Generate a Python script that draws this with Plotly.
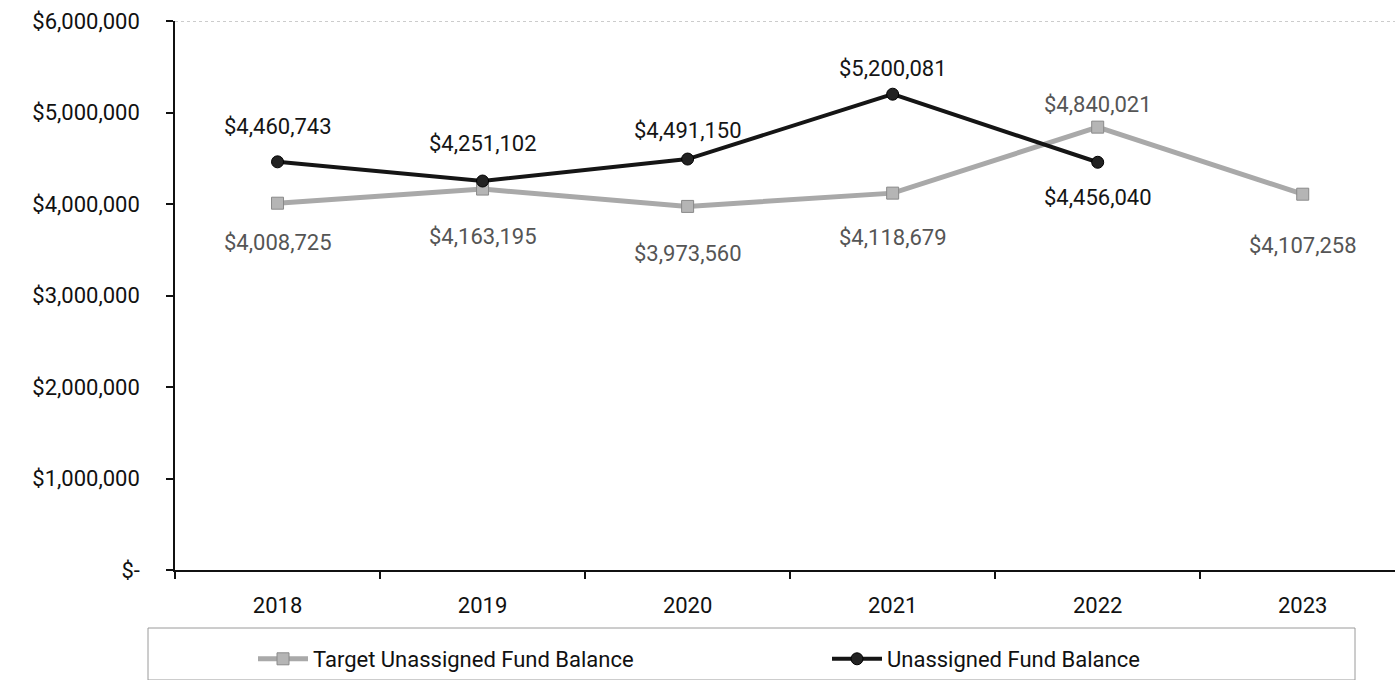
import plotly.graph_objects as go

# Fiscal years and fund balances
years = [2018, 2019, 2020, 2021, 2022, 2023]
target_balance = [4008725, 4163195, 3973560, 4118679, 4840021, 4107258]
actual_years = [2018, 2019, 2020, 2021, 2022]
actual_balance = [4460743, 4251102, 4491150, 5200081, 4456040]

y_tickvals = [0, 1000000, 2000000, 3000000, 4000000, 5000000, 6000000]
y_ticktext = ["$-", "$1,000,000", "$2,000,000", "$3,000,000",
              "$4,000,000", "$5,000,000", "$6,000,000"]

# vertical pixel offsets of the value labels relative to their points
target_label_shift = [-39, -47, -47, -44, 23, -51]
actual_label_shift = [35, 38, 29, 26, -35]

FONT = "Roboto"
FS = 22
GRAY_LINE = "#a9a9a9"
GRAY_TEXT = "#555555"
BLACK = "#151515"

fig = go.Figure()
fig.add_trace(go.Scatter(
    x=years, y=target_balance, mode="lines+markers",
    name="Target Unassigned Fund Balance", legend="legend",
    line=dict(color=GRAY_LINE, width=5),
    marker=dict(symbol="square", size=12, color="#b5b5b5",
                line=dict(color="#8a8a8a", width=1)),
))
fig.add_trace(go.Scatter(
    x=actual_years, y=actual_balance, mode="lines+markers",
    name="Unassigned Fund Balance", legend="legend2",
    line=dict(color=BLACK, width=4),
    marker=dict(symbol="circle", size=12, color="#222222",
                line=dict(color="#000000", width=1)),
))


def money(v):
    return "${:,}".format(v)


for x, v, s in zip(years, target_balance, target_label_shift):
    fig.add_annotation(x=x, y=v, text=money(v), showarrow=False, yshift=s,
                       font=dict(family=FONT, size=FS, color=GRAY_TEXT))
for x, v, s in zip(actual_years, actual_balance, actual_label_shift):
    fig.add_annotation(x=x, y=v, text=money(v), showarrow=False, yshift=s,
                       font=dict(family=FONT, size=FS, color=BLACK))

# dotted top border of the plot area
fig.add_shape(type="line", xref="paper", yref="y", x0=0, x1=1,
              y0=6000000, y1=6000000,
              line=dict(color="#9a9a9a", width=1, dash="dot"))

# legend frame
fig.add_shape(type="rect", xref="paper", yref="paper",
              x0=(148 - 175) / 1220, x1=(1355 - 175) / 1220,
              y0=-110 / 549, y1=-58 / 549,
              line=dict(color="#9a9a9a", width=1))

# category boundaries for the x-axis tick marks
boundaries = [y - 0.5 for y in years] + [years[-1] + 0.5]

legend_common = dict(
    orientation="h", xanchor="left", yanchor="middle", y=-89 / 549,
    font=dict(family=FONT, size=FS, color="#111111"),
    bgcolor="rgba(0,0,0,0)", itemwidth=50,
)

fig.update_layout(
    width=1395, height=680,
    margin=dict(l=175, r=0, t=21, b=110),
    paper_bgcolor="white", plot_bgcolor="white",
    font=dict(family=FONT, size=FS, color="#111111"),
    showlegend=True,
    legend=dict(x=(253 - 175) / 1220, **legend_common),
    legend2=dict(x=(827 - 175) / 1220, **legend_common),
    xaxis=dict(
        range=[2017.5, 2023.45],
        tickvals=years, ticktext=[str(y) for y in years],
        ticks="", showgrid=False, zeroline=False,
        showline=True, linecolor="#111111", linewidth=1.5,
        tickfont=dict(family=FONT, size=FS, color="#111111"),
        ticklabelstandoff=15,
        minor=dict(tickvals=boundaries, ticks="outside", ticklen=7,
                   tickcolor="#111111", tickwidth=1.5, showgrid=False),
    ),
    yaxis=dict(
        range=[0, 6000000],
        tickvals=y_tickvals, ticktext=y_ticktext,
        showgrid=False, zeroline=False,
        showline=True, linecolor="#111111", linewidth=1.5,
        ticks="outside", ticklen=7, tickcolor="#111111", tickwidth=1.5,
        tickfont=dict(family=FONT, size=FS, color="#111111"),
        ticklabelstandoff=22,
    ),
)

fig.write_html("out.html")
